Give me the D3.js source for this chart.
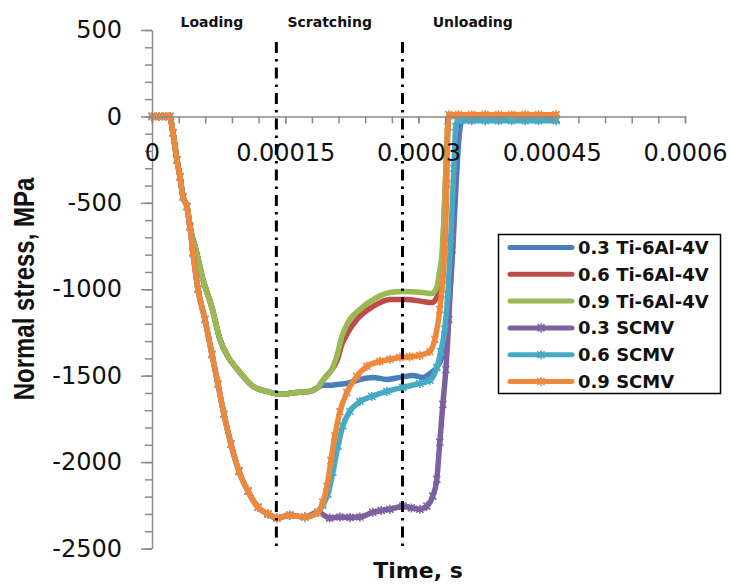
<!DOCTYPE html>
<html>
<head>
<meta charset="utf-8">
<script src="https://cdn.jsdelivr.net/npm/d3@7"></script>
<style>
  body { margin: 0; background: #fff; }
  svg { display: block; }
</style>
</head>
<body>
<div id="chart"></div>
<script>
// time in microseconds, normal stress in MPa
var xTickValues = [0, 150, 300, 450, 600];
var xTickLabels = ["0", "0.00015", "0.0003", "0.00045", "0.0006"];
var yTickValues = [500, 0, -500, -1000, -1500, -2000, -2500];
var phaseBounds = [140, 282];
var phaseNames = ["Loading", "Scratching", "Unloading"];
var phaseLabelTimes = [67.5, 200, 361];

var loadStart = [[0,0],[8,0],[16,0],[20,0],[23.6,-95],[28.1,-252],[31.5,-349],[34.9,-465],[39.4,-522],[42.8,-638]];

var tiLoad = [[49.5,-771],[57.4,-944],[67.5,-1106],[76.5,-1290],[85.5,-1389],[99,-1481],[113.6,-1562],
    [129.4,-1591],[144,-1608],[163,-1597],[177.8,-1591],[186.8,-1568]];

var scmvLoad = [[46.1,-788],[51.8,-1000],[59.6,-1175],[67.5,-1377],[74.3,-1550],[81,-1723],[88.9,-1896],
    [97.9,-2052],[108,-2168],[119.3,-2261],[130.5,-2301],[140.6,-2324],[155,-2307],[172,-2318],[186.8,-2290]];

var ti03 = [[192.4,-1556],[200.3,-1556],[210,-1550],[219.4,-1545],[234,-1522],[248.6,-1510],[264.4,-1522],
    [279,-1510],[293.6,-1499],[305,-1510],[312.8,-1487],[320.6,-1452],[326.3,-1389],[330.8,-1250],
    [335.3,-1030],[338.6,-771],[342,-427],[345.4,-135],[348.8,-26],[380,-15],[455,-15]];

var ti06 = [[192.4,-1527],[202.5,-1464],[208,-1417],[213.8,-1319],[220.5,-1250],[230.6,-1175],[248.6,-1100],
    [267.8,-1059],[287,-1059],[305,-1071],[315,-1077],[320.6,-1048],[325,-961],[327.4,-771],[329.6,-482],
    [331.9,-193],[334.1,-9],[336.4,0],[400,0],[455,0]];

var ti09 = [[192.4,-1527],[202.5,-1464],[208,-1389],[213.8,-1273],[220.5,-1192],[234,-1117],[253,-1048],
    [267.8,-1019],[282.4,-1013],[305,-1019],[315,-1025],[320.6,-990],[324,-886],[326.3,-800],[328.5,-598],
    [330.8,-309],[333,-32],[335.3,0],[360,0],[400,0],[455,0]];

var scmv03 = [[200,-2324],[211.5,-2318],[223,-2320],[234,-2318],[248.6,-2290],[258,-2280],[267.8,-2273],
    [282.4,-2255],[292,-2265],[301.5,-2273],[309.4,-2255],[316.1,-2197],[320.6,-2100],[324,-1885],
    [327.4,-1666],[330.8,-1464],[334.1,-1175],[337.5,-771],[340.9,-309],[343.1,-60],[345.4,-26],
    [360,-15],[375,-15],[390,-15],[405,-15],[420,-15],[435,-15],[455,-15]];

var scmv06 = [[192.4,-2249],[198,-2186],[203.6,-2059],[209.3,-1908],[214.9,-1790],[222.8,-1706],[234,-1649],
    [247.5,-1620],[264.4,-1591],[282.4,-1568],[301.5,-1545],[312.8,-1527],[320.6,-1452],[325,-1360],
    [329.6,-1230],[333,-1030],[336.4,-700],[339.8,-300],[342,-60],[344.3,-25],
    [360,-25],[375,-25],[390,-25],[405,-25],[420,-25],[435,-25],[455,-25]];

var scmv09 = [[192.4,-2232],[196.9,-2140],[201.4,-1990],[205.9,-1848],[211.5,-1709],[219.4,-1597],
    [230.6,-1504],[241.9,-1446],[256.5,-1417],[268,-1405],[279,-1394],[290,-1390],[301.5,-1383],
    [312.8,-1360],[318.4,-1290],[324,-1117],[327.4,-944],[329.6,-771],[331.9,-390],[333,-60],[334.1,10],
    [345,10],[360,10],[375,10],[390,10],[405,10],[420,10],[435,10],[455,10]];

var seriesNames = ["0.3 Ti-6Al-4V", "0.6 Ti-6Al-4V", "0.9 Ti-6Al-4V", "0.3 SCMV", "0.6 SCMV", "0.9 SCMV"];
var seriesColors = ["#4A7EBB", "#BE4B48", "#98B954", "#7D60A0", "#46AAC5", "#EE883C"];
var seriesMarked = [false, false, false, true, true, true];
var seriesValues = [
    loadStart.concat(tiLoad, ti03),
    loadStart.concat(tiLoad, ti06),
    loadStart.concat(tiLoad, ti09),
    loadStart.concat(scmvLoad, scmv03),
    loadStart.concat(scmvLoad, scmv06),
    loadStart.concat(scmvLoad, scmv09)
];

var width = 731, height = 587;

var svg = d3.select("#chart").append("svg")
    .attr("width", width)
    .attr("height", height);

var x = d3.scaleLinear().domain([0, 600]).range([152, 685]);
var y = d3.scaleLinear().domain([-2500, 500]).range([548.5, 30]);

var axisColor = "#8a8a8a";

//series lines
var line = d3.line()
    .x(function(d) { return x(d[0]); })
    .y(function(d) { return y(d[1]); })
    .curve(d3.curveMonotoneX);

var starPath = "M-3.5,-3.5L3.5,3.5M-3.5,3.5L3.5,-3.5M0,-4.5L0,4.5";

seriesValues.forEach(function(vals, i) {
    svg.append("path")
        .datum(vals)
        .attr("fill", "none")
        .attr("stroke", seriesColors[i])
        .attr("stroke-width", 5.5)
        .attr("stroke-linejoin", "round")
        .attr("stroke-linecap", "round")
        .attr("d", line);

    if (seriesMarked[i]) {
        svg.append("g").selectAll("path")
            .data(vals)
            .join("path")
            .attr("transform", function(d) { return "translate(" + x(d[0]) + "," + y(d[1]) + ")"; })
            .attr("d", starPath)
            .attr("stroke", seriesColors[i])
            .attr("stroke-width", 1.6)
            .attr("fill", "none");
    }
});

//y axis, minor then major
svg.append("g")
    .attr("transform", "translate(" + x(0) + ",0)")
    .call(d3.axisLeft(y).tickValues(d3.range(-2500, 501, 100)).tickSize(7).tickFormat(""))
    .call(function(g) { g.select(".domain").remove(); })
    .selectAll("line").attr("stroke", axisColor).attr("stroke-width", 1.5);

var yAxis = svg.append("g")
    .attr("transform", "translate(" + x(0) + ",0)")
    .call(d3.axisLeft(y).tickValues(yTickValues).tickSize(11).tickSizeOuter(0).tickPadding(19)
        .tickFormat(function(d) { return String(d); }));
yAxis.select(".domain").attr("stroke", axisColor).attr("stroke-width", 1.5);
yAxis.selectAll("line").attr("stroke", axisColor).attr("stroke-width", 1.5);
yAxis.selectAll("text")
    .style("font-family", "DejaVu Sans")
    .style("font-size", "24px")
    .attr("fill", "#111");

//x axis at stress = 0
svg.append("g")
    .attr("transform", "translate(0," + y(0) + ")")
    .call(d3.axisBottom(x).tickValues(d3.range(0, 601, 30)).tickSize(7).tickFormat(""))
    .call(function(g) { g.select(".domain").remove(); })
    .selectAll("line").attr("stroke", axisColor).attr("stroke-width", 1.5);

var xAxis = svg.append("g")
    .attr("transform", "translate(0," + y(0) + ")")
    .call(d3.axisBottom(x).tickValues(xTickValues).tickSize(7).tickSizeOuter(0).tickPadding(21)
        .tickFormat(function(d, i) { return xTickLabels[i]; }));
xAxis.select(".domain").attr("stroke", axisColor).attr("stroke-width", 1.5);
xAxis.selectAll("line").attr("stroke", axisColor).attr("stroke-width", 1.5);
xAxis.selectAll("text")
    .style("font-family", "DejaVu Sans")
    .style("font-size", "24px")
    .attr("fill", "#111");

//phase boundaries
svg.append("g").selectAll("line")
    .data(phaseBounds)
    .join("line")
    .attr("x1", function(d) { return x(d); })
    .attr("x2", function(d) { return x(d); })
    .attr("y1", y(430))
    .attr("y2", y(-2520))
    .attr("stroke", "#000")
    .attr("stroke-width", 3)
    .attr("stroke-dasharray", "11,6,2.5,6");

svg.append("g").selectAll("text")
    .data(phaseNames)
    .join("text")
    .attr("x", function(d, i) { return x(phaseLabelTimes[i]); })
    .attr("y", 27)
    .attr("text-anchor", "middle")
    .style("font-family", "DejaVu Sans")
    .style("font-weight", "bold")
    .style("font-size", "14px")
    .attr("fill", "#111")
    .text(function(d) { return d; });

//axis titles
svg.append("text")
    .attr("x", 418)
    .attr("y", 578)
    .attr("text-anchor", "middle")
    .style("font-family", "DejaVu Sans")
    .style("font-weight", "bold")
    .style("font-size", "22px")
    .attr("fill", "#111")
    .text("Time, s");

svg.append("text")
    .attr("transform", "translate(24,289) rotate(-90) scale(1,1.2)")
    .attr("text-anchor", "middle")
    .attr("dominant-baseline", "central")
    .style("font-family", "Liberation Sans")
    .style("font-weight", "bold")
    .style("font-size", "24px")
    .attr("fill", "#111")
    .text("Normal stress, MPa");

//legend
var legend = svg.append("g");
legend.append("rect")
    .attr("x", 498.5).attr("y", 234.5)
    .attr("width", 222).attr("height", 159)
    .attr("fill", "#fff")
    .attr("stroke", "#000")
    .attr("stroke-width", 1.5);

var rows = legend.selectAll("g.row")
    .data(seriesNames)
    .join("g")
    .attr("class", "row")
    .attr("transform", function(d, i) { return "translate(0," + (247.5 + i * 26.8) + ")"; });

rows.append("line")
    .attr("x1", 510).attr("x2", 572)
    .attr("stroke", function(d, i) { return seriesColors[i]; })
    .attr("stroke-width", 5)
    .attr("stroke-linecap", "round");

rows.filter(function(d, i) { return seriesMarked[i]; })
    .append("path")
    .attr("transform", "translate(541,0)")
    .attr("d", starPath)
    .attr("stroke", function(d) { return seriesColors[seriesNames.indexOf(d)]; })
    .attr("stroke-width", 1.6)
    .attr("fill", "none");

rows.append("text")
    .attr("x", 578)
    .attr("y", 0)
    .attr("dy", "0.36em")
    .style("font-family", "DejaVu Sans")
    .style("font-weight", "bold")
    .style("font-size", "18px")
    .attr("fill", "#111")
    .text(function(d) { return d; });
</script>
</body>
</html>
